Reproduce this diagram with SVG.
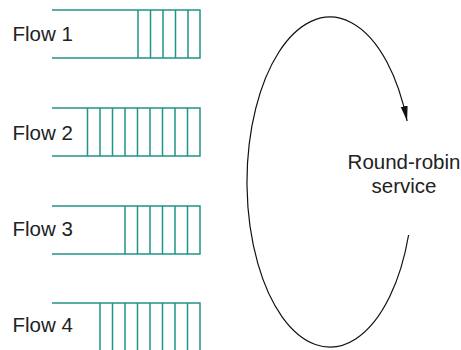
<svg xmlns="http://www.w3.org/2000/svg" width="461" height="350" viewBox="0 0 461 350">
<style>
.q{stroke:#1f9488;stroke-width:1.5;fill:none}
.lbl{font-family:"Liberation Sans",Arial,sans-serif;font-size:20.5px;fill:#222}
.conn{stroke:#111;stroke-width:1.2;fill:none}
</style>
<defs>
<marker id="ah" markerUnits="userSpaceOnUse" markerWidth="16" markerHeight="10" viewBox="0 0 16 10" refX="15" refY="5" orient="auto">
<path d="M0,1.5 L15,5 L0,8.5 Z" fill="#111"/>
</marker>
</defs>
<g id="flow1">
<path class="q" d="M52,10 H200 V58 H52 M138,10 V58 M150.5,10 V58 M163,10 V58 M175.5,10 V58 M188,10 V58"/>
<text class="lbl" x="12.5" y="41">Flow 1</text>
</g>
<g id="flow2">
<path class="q" d="M52,108 H200 V156 H52 M87.5,108 V156 M100,108 V156 M112.5,108 V156 M125,108 V156 M137.5,108 V156 M150,108 V156 M162.5,108 V156 M175,108 V156 M187.5,108 V156"/>
<text class="lbl" x="12.5" y="139.5">Flow 2</text>
</g>
<g id="flow3">
<path class="q" d="M52,206 H200 V254 H52 M125,206 V254 M137.5,206 V254 M150,206 V254 M162.5,206 V254 M175,206 V254 M187.5,206 V254"/>
<text class="lbl" x="12.5" y="236">Flow 3</text>
</g>
<g id="flow4">
<path class="q" d="M52,303 H200 V352 M100,303 V352 M112.5,303 V352 M125,303 V352 M137.5,303 V352 M150,303 V352 M162.5,303 V352 M175,303 V352 M187.5,303 V352"/>
<text class="lbl" x="12.5" y="332">Flow 4</text>
</g>
<g id="connectors">
<path class="conn" d="M408.6,235 A83,165 0 1 1 407.1,121" marker-end="url(#ah)"/>
</g>
<g id="service">
<text class="lbl" x="404" y="168.5" text-anchor="middle">Round-robin</text>
<text class="lbl" x="404" y="192.5" text-anchor="middle">service</text>
</g>
</svg>
